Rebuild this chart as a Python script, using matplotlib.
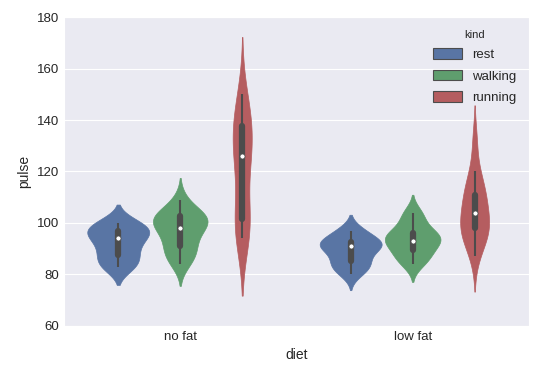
import colorsys
import numpy as np
import matplotlib
matplotlib.use('Agg')
import matplotlib.pyplot as plt
import matplotlib.colors as mcolors
import seaborn as sns

# exercise data: pulse per subject at 1, 15, 30 min
diet_order = ['no fat', 'low fat']
kinds = ['rest', 'walking', 'running']
colors = ['#4C72B0', '#55A868', '#C44E52']

pulse = {
    ('no fat', 'rest'): [83, 83, 84, 87, 88, 90, 92, 94, 95, 97, 99, 96, 100, 97, 100],
    ('no fat', 'walking'): [84, 86, 89, 103, 109, 90, 92, 96, 101, 97, 98, 100, 102, 104, 103],
    ('no fat', 'running'): [95, 126, 143, 100, 126, 140, 103, 124, 140, 94, 135, 130, 99, 111, 150],
    ('low fat', 'rest'): [85, 85, 88, 90, 92, 93, 97, 97, 94, 80, 82, 83, 91, 92, 91],
    ('low fat', 'walking'): [86, 86, 84, 93, 103, 104, 90, 92, 93, 95, 96, 100, 89, 96, 95],
    ('low fat', 'running'): [93, 98, 110, 98, 104, 112, 98, 105, 99, 87, 132, 120, 94, 110, 116],
}


def desat(c, prop=0.75):
    h, l, s = colorsys.rgb_to_hls(*mcolors.to_rgb(c))
    return colorsys.hls_to_rgb(h, l, s * prop)


def kde(data, n_grid=100, cut=2):
    data = np.asarray(data, float)
    bw = data.std(ddof=1) * len(data) ** (-1 / 5)    # scott
    grid = np.linspace(data.min() - cut * bw, data.max() + cut * bw, n_grid)
    dens = np.exp(-0.5 * ((grid[:, None] - data[None, :]) / bw) ** 2).sum(1)
    dens /= len(data) * bw * np.sqrt(2 * np.pi)
    return grid, dens


sns.set_style('darkgrid')
plt.rcParams['font.family'] = ['Liberation Sans', 'DejaVu Sans']

face = [desat(c) for c in colors]
light = min(colorsys.rgb_to_hls(*c)[1] for c in face) * 0.6
gray = (light, light, light)

fig = plt.figure(figsize=(5.38, 3.81), dpi=100)
ax = fig.add_axes([0.119, 0.145, 0.864, 0.810])

width = 0.8
each = width / len(kinds)
offsets = (np.arange(len(kinds)) - 1) * each
lw = 1.5

for i, diet in enumerate(diet_order):
    curves = [kde(pulse[(diet, k)]) for k in kinds]
    dmax = max(d.max() for _, d in curves)
    for j, k in enumerate(kinds):
        grid, dens = curves[j]
        c = i + offsets[j]
        half = dens / dmax * each / 2
        ax.fill_betweenx(grid, c - half, c + half, facecolor=face[j],
                         edgecolor=face[j], linewidth=0.5, zorder=2)
        d = np.asarray(pulse[(diet, k)], float)
        q25, q50, q75 = np.percentile(d, [25, 50, 75])
        lim = 1.5 * (q75 - q25)
        h1 = d[d >= q25 - lim].min()
        h2 = d[d <= q75 + lim].max()
        ax.plot([c, c], [h1, h2], color=gray, lw=lw, solid_capstyle='butt', zorder=3)
        ax.plot([c, c], [q25, q75], color=gray, lw=lw * 3, solid_capstyle='round', zorder=3)
        ax.scatter(c, q50, s=(lw * 2.4) ** 2, color='white', edgecolor=gray, lw=0.5, zorder=4)

for j, k in enumerate(kinds):
    ax.bar(0, 0, color=face[j], edgecolor=gray, linewidth=0.8, label=k)

ax.set_xlim(-0.5, 1.5)
ax.set_ylim(60, 180)
ax.set_xticks(range(len(diet_order)))
ax.set_xticklabels(diet_order)
ax.set_xlabel('diet', fontsize=10)
ax.set_ylabel('pulse', fontsize=10)
ax.tick_params(labelsize=9.5, length=0)
ax.xaxis.grid(False)
ax.legend(title='kind', loc='upper right', frameon=False, fontsize=9.5,
          title_fontsize=8, bbox_to_anchor=(0.985, 0.977), borderaxespad=0,
          handlelength=2.2, handleheight=0.85, handletextpad=0.8, labelspacing=0.66)
fig.savefig('out.png', dpi=100)
